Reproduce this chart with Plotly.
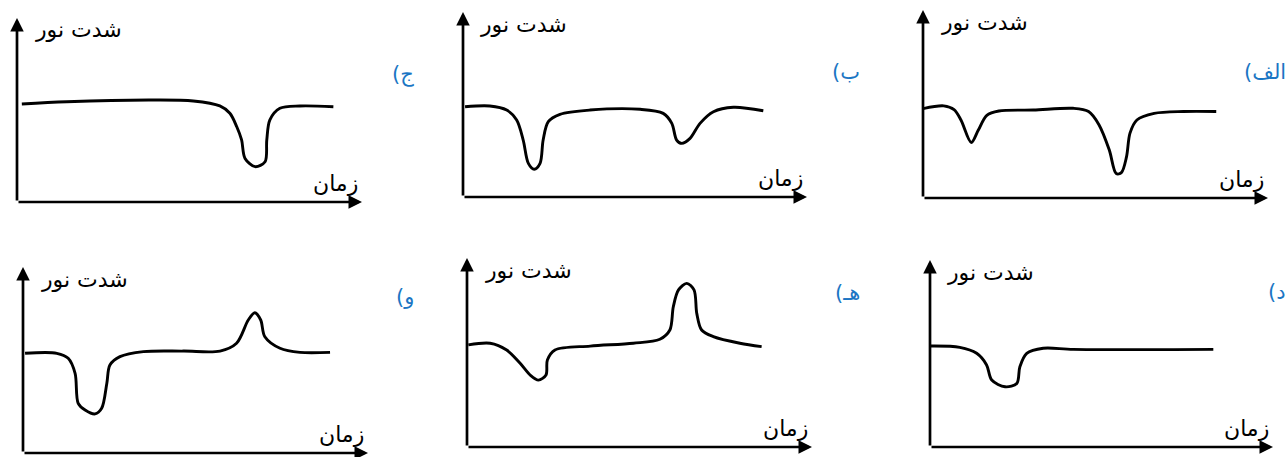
import plotly.graph_objects as go

FIG_W, FIG_H = 1288, 457

# ---------------- data (time 0..100, light intensity 0..100) ----------------
LRM = "\u200e"
panel_labels = ["الف", "ب", "ج", "د", "هـ", "و"]
y_title = "شدت نور"
x_title = "زمان"

t_alef = [0, 6, 9, 11, 14, 16, 18.5, 22, 32, 43.5, 48, 51, 54, 56, 57.5, 59, 60, 62, 67, 75.5, 85]
v_alef = [47.5, 49, 47, 41.5, 29.5, 36, 44, 46.3, 46.8, 47.7, 46, 39, 25.5, 13, 13.5, 22, 34.5, 41.5, 45, 46, 46]

t_be = [0.6, 7.8, 12.7, 15.6, 17.5, 19, 20.7, 22.4, 23.3, 24.8, 28.2, 36.9, 51.5, 58.2, 60.7, 62.1, 63.6, 66, 68.9, 72.8, 78.6, 87.3]
v_be = [48.8, 49.2, 47, 41.6, 30.8, 18.2, 15, 18.2, 30.8, 40.7, 44.7, 47, 47.4, 45.2, 39.8, 30.8, 29, 31.7, 39.8, 46.1, 48.5, 46.6]

t_jim = [1.4, 14.4, 38.6, 51.1, 58.8, 61.7, 63.7, 65.1, 66.1, 69, 71.9, 72.4, 73.3, 76.2, 82, 91.7]
v_jim = [53.3, 54.5, 55.4, 54.9, 52.2, 48.2, 40.9, 33.7, 23.7, 19.2, 21.9, 33.7, 44.6, 50.9, 52.2, 51.8]

t_dal = [0, 8.7, 13.6, 16.5, 18, 21.9, 25.3, 26.2, 28.2, 33, 41.8, 82.6]
v_dal = [54, 53.3, 50.1, 43.9, 35.8, 32.2, 34, 42.9, 50.1, 52.8, 52.2, 52.2]

t_he = [0.4, 6.7, 11.5, 15.4, 18.3, 20.7, 22.9, 23.3, 25.5, 35.7, 48.2, 55.9, 58.8, 59.8, 61.3, 63.7, 65.8, 66.6, 68, 71.4, 79.1, 85.4]
v_he = [54, 54.9, 51.3, 44.3, 38.1, 35.4, 38.1, 46, 51.3, 53.4, 54.9, 57, 61.9, 74.2, 83.1, 86.6, 83.1, 70.7, 61.9, 58.4, 54.9, 53.1]

t_vav = [0.6, 9.8, 13.1, 15.1, 16, 18, 20.9, 22.8, 24.3, 25.2, 28.1, 34.9, 46.5, 57.1, 61.9, 65.3, 67.2, 68.9, 70.1, 74.5, 80.3, 89]
v_vav = [53.6, 53.6, 50.9, 42.8, 26.7, 23.1, 21, 24, 37.5, 47.3, 51.8, 54.5, 54.8, 54.8, 59, 71.5, 75.4, 71.5, 62.5, 56.3, 54.1, 54.1]

series = [(t_alef, v_alef), (t_be, v_be), (t_jim, v_jim),
          (t_dal, v_dal), (t_he, v_he), (t_vav, v_vav)]

# ---------------- layout (pixel boxes: origin x, origin y, width, height) ----------------
boxes = [(923, 198, 345, 188), (463, 197, 344, 185), (17, 202, 345, 184),
         (930, 447, 343, 187), (467, 447, 345, 189), (23, 453, 345, 186)]
label_px = [(1288, 72), (862, 72), (416, 75), (1288, 292), (862, 293), (416, 297)]

FONT = "DejaVu Sans"
BLUE = "#1b76c4"

fig = go.Figure()
annotations = []
layout_axes = {}

for i, ((t, v), (ox, oy, w, h)) in enumerate(zip(series, boxes), start=1):
    sx = "" if i == 1 else str(i)
    xa, ya = "x" + sx, "y" + sx
    layout_axes["xaxis" + sx] = dict(domain=[ox / FIG_W, (ox + w) / FIG_W], range=[0, 100],
                                     visible=False, anchor=ya, fixedrange=True)
    layout_axes["yaxis" + sx] = dict(domain=[1 - oy / FIG_H, 1 - (oy - h) / FIG_H], range=[0, 100],
                                     visible=False, anchor=xa, fixedrange=True)
    fig.add_trace(go.Scatter(x=t, y=v, xaxis=xa, yaxis=ya, mode="lines",
                             line=dict(color="black", width=2.9, shape="spline", smoothing=0.9),
                             showlegend=False, hoverinfo="skip"))
    # axes with arrows
    for (x1, y1) in [(0, 100), (100, 0)]:
        annotations.append(dict(xref=xa, yref=ya, axref=xa, ayref=ya, x=x1, y=y1, ax=0, ay=0,
                                text="", showarrow=True, arrowhead=2, arrowsize=1.0,
                                arrowwidth=2.7, arrowcolor="black", standoff=0))
    annotations.append(dict(xref=xa, yref=ya, x=17.7, y=93.5, text=y_title, showarrow=False,
                            font=dict(family=FONT, size=22, color="black")))
    annotations.append(dict(xref=xa, yref=ya, x=92.2, y=10, text=x_title, showarrow=False,
                            font=dict(family=FONT, size=22, color="black")))

for lab, (px, py) in zip(panel_labels, label_px):
    annotations.append(dict(xref="paper", yref="paper", x=px / FIG_W, y=1 - py / FIG_H,
                            xanchor="right", yanchor="middle", text=LRM + "(" + lab,
                            showarrow=False,
                            font=dict(family=FONT, size=21, color=BLUE)))

fig.update_layout(width=FIG_W, height=FIG_H, margin=dict(l=0, r=0, t=0, b=0),
                  paper_bgcolor="white", plot_bgcolor="white",
                  annotations=annotations, **layout_axes)

fig.write_html("out.html", config={"displayModeBar": False},
               post_script="document.body.style.margin='0';document.body.style.overflow='hidden';")
